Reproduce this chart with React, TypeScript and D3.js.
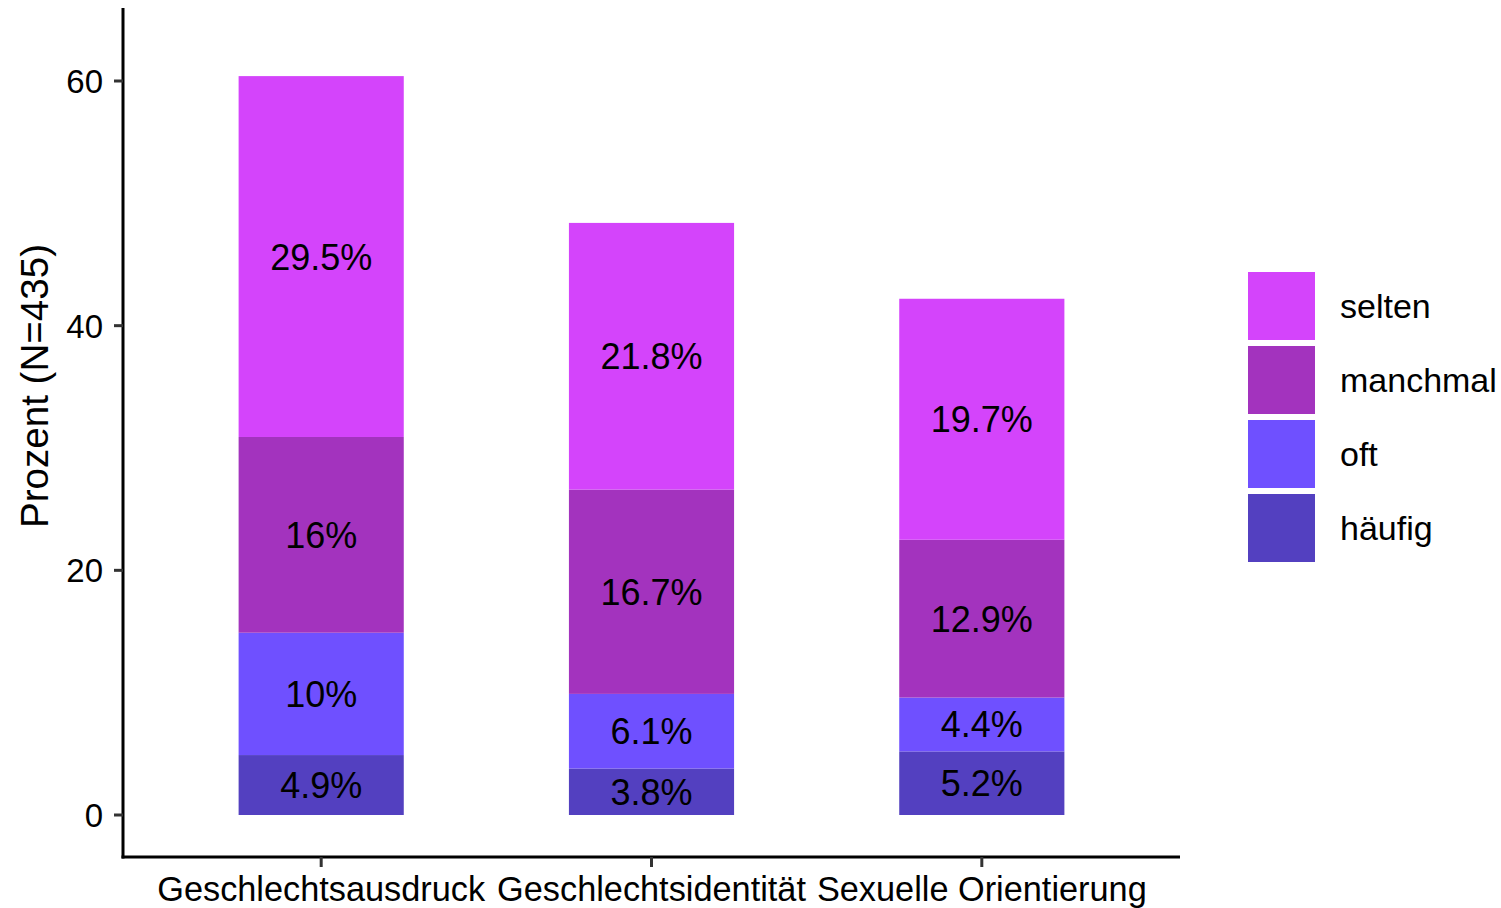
import React from 'react';
import * as d3 from 'd3';

// Data

const categories = ['Geschlechtsausdruck', 'Geschlechtsidentität', 'Sexuelle Orientierung'];
const levels = ['häufig', 'oft', 'manchmal', 'selten']; // bottom to top
const haeufig = [4.9, 3.8, 5.2];
const oft = [10, 6.1, 4.4];
const manchmal = [16, 16.7, 12.9];
const selten = [29.5, 21.8, 19.7];
const labels = [
  ['4.9%', '3.8%', '5.2%'],
  ['10%', '6.1%', '4.4%'],
  ['16%', '16.7%', '12.9%'],
  ['29.5%', '21.8%', '19.7%'],
];
const yTicks = [0, 20, 40, 60];
const colors = ['#5340C0', '#6F50FF', '#A333BE', '#D444FB'];

const font = '"Liberation Sans", Arial, Helvetica, sans-serif';

const App = () => {
  const width = 1501;
  const height = 908;
  const panel = { left: 123, right: 1180, top: 8, bottom: 857 };

  // x: discrete positions 1..3 with 0.6 expansion on each side
  const x = d3
    .scaleLinear()
    .domain([0.4, categories.length + 0.6])
    .range([panel.left, panel.right]);
  const barW = x(1.5) - x(1);

  const y = d3.scaleLinear().domain([0, 60]).range([815, 81]);

  const table = categories.map((c, i) => ({
    category: c,
    häufig: haeufig[i],
    oft: oft[i],
    manchmal: manchmal[i],
    selten: selten[i],
  }));
  const stacked = d3.stack<any>().keys(levels)(table);

  const legendTop = 272;
  const legendStep = 74;
  const legendKey = 67;
  const legendOrder = [...levels].reverse();

  return (
    <svg width={width} height={height} style={{ display: 'block', position: 'absolute', left: 0, top: 0 }}>
      <rect width={width} height={height} fill="#fff" />

      {/* bars */}
      {stacked.map((layer, li) =>
        layer.map((d, i) => (
          <rect
            key={`${li}-${i}`}
            x={x(i + 1) - barW / 2}
            y={y(d[1])}
            width={barW}
            height={y(d[0]) - y(d[1])}
            fill={colors[li]}
          />
        ))
      )}

      {/* bar labels */}
      {stacked.map((layer, li) =>
        layer.map((d, i) => (
          <text
            key={`l-${li}-${i}`}
            x={x(i + 1)}
            y={y((d[0] + d[1]) / 2)}
            dy="0.36em"
            textAnchor="middle"
            fontFamily={font}
            fontSize={36}
            fill="#000"
          >
            {labels[li][i]}
          </text>
        ))
      )}

      {/* y axis */}
      <line x1={panel.left} x2={panel.left} y1={panel.top} y2={panel.bottom + 1.5} stroke="#000" strokeWidth={3} />
      {yTicks.map(t => (
        <g key={t}>
          <line x1={panel.left - 9} x2={panel.left} y1={y(t)} y2={y(t)} stroke="#333" strokeWidth={3} />
          <text
            x={panel.left - 20}
            y={y(t)}
            dy="0.36em"
            textAnchor="end"
            fontFamily={font}
            fontSize={33}
            fill="#000"
          >
            {t}
          </text>
        </g>
      ))}

      {/* x axis */}
      <line x1={panel.left - 1.5} x2={panel.right} y1={panel.bottom} y2={panel.bottom} stroke="#000" strokeWidth={3} />
      {categories.map((c, i) => (
        <g key={c}>
          <line x1={x(i + 1)} x2={x(i + 1)} y1={panel.bottom} y2={panel.bottom + 10} stroke="#333" strokeWidth={3} />
          <text
            x={x(i + 1)}
            y={901}
            textAnchor="middle"
            fontFamily={font}
            fontSize={34.3}
            fill="#000"
          >
            {c}
          </text>
        </g>
      ))}

      {/* y axis title */}
      <text
        transform={`translate(48,386) rotate(-90)`}
        textAnchor="middle"
        fontFamily={font}
        fontSize={38.6}
        fill="#000"
      >
        Prozent (N=435)
      </text>

      {/* legend */}
      {legendOrder.map((lv, k) => {
        const ci = levels.indexOf(lv);
        const top = legendTop + k * legendStep;
        return (
          <g key={lv}>
            <rect x={1248} y={top} width={legendKey} height={legendKey + 1} fill={colors[ci]} />
            <text
              x={1340}
              y={top + legendKey / 2}
              dy="0.36em"
              fontFamily={font}
              fontSize={34}
              fill="#000"
            >
              {lv}
            </text>
          </g>
        );
      })}
    </svg>
  );
};

export default App;
